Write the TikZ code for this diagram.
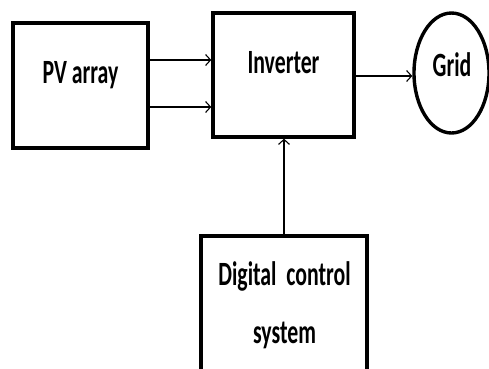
\documentclass[tikz,border=0pt]{standalone}
\usepackage{fontspec}
\newfontfamily\lbl{Carlito}[FakeStretch=0.64,UprightFont={* Bold}]
\usetikzlibrary{arrows.meta,shapes.geometric}
\begin{document}
\begin{tikzpicture}[x=1pt,y=-1pt,
  block/.style={draw,line width=3.4pt,inner sep=0pt},
  arr/.style={-{Straight Barb[length=5pt,width=11pt,line width=1.1pt]},line width=1.2pt},
  txt/.style={font=\lbl\fontsize{34}{58}\selectfont,inner sep=0pt,anchor=base}]
\useasboundingbox (0,0) rectangle (489,368);
% blocks
\node[block,minimum width=135pt,minimum height=125pt] (pv) at (80.5,85.5) {};
\node[block,minimum width=141pt,minimum height=124pt] (inv) at (283.5,75) {};
\node[block,ellipse,minimum width=75pt,minimum height=120pt] (grid) at (451.5,73) {};
\node[block,minimum width=166pt,minimum height=140pt] (dcs) at (284,306) {};
% labels
\node[txt] (pvt) at (80.5,83.3) {PV array};
\node[txt] (invt) at (283.5,73.5) {Inverter};
\node[txt] (gridt) at (452,76) {Grid};
\node[txt,align=center] (dcst) at (284.5,343) {Digital\ \ control\\system};
% connectors
\coordinate (out) at ([yshift=-1pt]inv.east);
\draw[arr] ([yshift=25.5pt]pv.east) -- ([yshift=15pt]inv.west);
\draw[arr] ([yshift=-21.5pt]pv.east) -- ([yshift=-32pt]inv.west);
\draw[arr] (out) -- (grid.west |- out);
\draw[arr] (dcs.north) -- (dcs.north |- inv.south);
\end{tikzpicture}
\end{document}
